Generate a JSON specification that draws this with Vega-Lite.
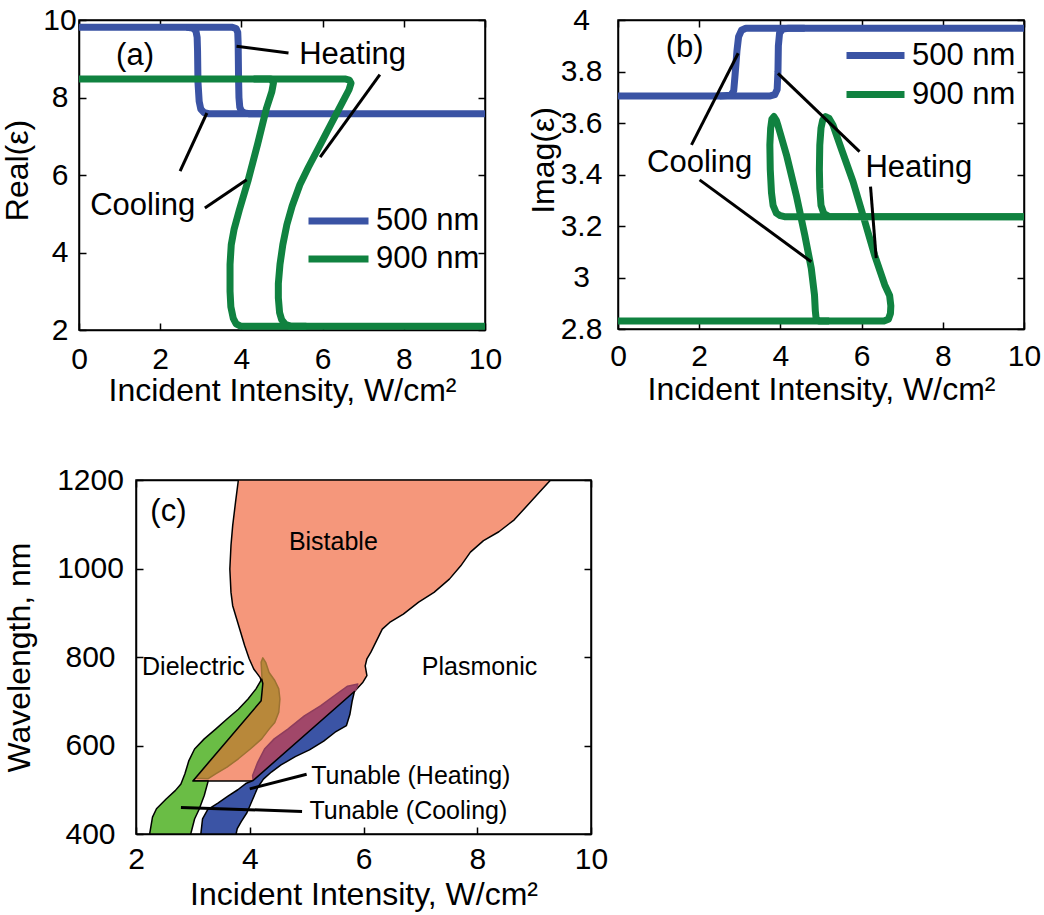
{
"$schema": "https://vega.github.io/schema/vega-lite/v6.json",
"background": "white",
"padding": {"left": 0, "top": 4, "right": 2, "bottom": 2},
"config": {
  "font": "Liberation Sans",
  "view": {"stroke": "black", "strokeWidth": 1.5},
  "axis": {"grid": false, "domainColor": "black", "domainWidth": 1.5, "tickColor": "black", "tickWidth": 1.5, "tickSize": -7, "labelColor": "black", "labelFont": "Liberation Sans", "labelFontSize": 30, "labelFlush": false, "labelOverlap": false, "titleColor": "black", "titleFont": "Liberation Sans", "titleFontSize": 32, "titleFontWeight": "normal"},
  "legend": {"symbolType": "stroke", "symbolStrokeWidth": 7, "labelFont": "Liberation Sans", "labelFontSize": 31, "labelColor": "black", "labelOffset": 4, "padding": 0, "rowPadding": 0}
},
"datasets": {
  "la": [
    {"s":"500h","w":"500 nm","i":0,"x":0,"y":9.81},{"s":"500h","w":"500 nm","i":1,"x":3.78,"y":9.81},{"s":"500h","w":"500 nm","i":2,"x":3.87,"y":9.78},{"s":"500h","w":"500 nm","i":3,"x":3.91,"y":9.68},{"s":"500h","w":"500 nm","i":4,"x":3.92,"y":9.4},{"s":"500h","w":"500 nm","i":5,"x":3.93,"y":8.5},{"s":"500h","w":"500 nm","i":6,"x":3.94,"y":8.0},{"s":"500h","w":"500 nm","i":7,"x":3.96,"y":7.75},{"s":"500h","w":"500 nm","i":8,"x":4.0,"y":7.65},{"s":"500h","w":"500 nm","i":9,"x":4.08,"y":7.6},{"s":"500h","w":"500 nm","i":10,"x":4.2,"y":7.58},{"s":"500h","w":"500 nm","i":11,"x":10,"y":7.58},
    {"s":"500c","w":"500 nm","i":0,"x":4.6,"y":7.58},{"s":"500c","w":"500 nm","i":1,"x":3.2,"y":7.58},{"s":"500c","w":"500 nm","i":2,"x":3.08,"y":7.61},{"s":"500c","w":"500 nm","i":3,"x":3.0,"y":7.7},{"s":"500c","w":"500 nm","i":4,"x":2.96,"y":7.9},{"s":"500c","w":"500 nm","i":5,"x":2.93,"y":8.4},{"s":"500c","w":"500 nm","i":6,"x":2.92,"y":9.2},{"s":"500c","w":"500 nm","i":7,"x":2.91,"y":9.55},{"s":"500c","w":"500 nm","i":8,"x":2.88,"y":9.72},{"s":"500c","w":"500 nm","i":9,"x":2.8,"y":9.79},{"s":"500c","w":"500 nm","i":10,"x":2.65,"y":9.81},
    {"s":"900h","w":"900 nm","i":0,"x":0,"y":8.48},{"s":"900h","w":"900 nm","i":1,"x":6.55,"y":8.48},{"s":"900h","w":"900 nm","i":2,"x":6.66,"y":8.45},{"s":"900h","w":"900 nm","i":3,"x":6.7,"y":8.37},{"s":"900h","w":"900 nm","i":4,"x":6.65,"y":8.2},{"s":"900h","w":"900 nm","i":5,"x":6.5,"y":7.9},{"s":"900h","w":"900 nm","i":6,"x":6.2,"y":7.3},{"s":"900h","w":"900 nm","i":7,"x":5.94,"y":6.78},{"s":"900h","w":"900 nm","i":8,"x":5.65,"y":6.2},{"s":"900h","w":"900 nm","i":9,"x":5.44,"y":5.75},{"s":"900h","w":"900 nm","i":10,"x":5.25,"y":5.2},{"s":"900h","w":"900 nm","i":11,"x":5.12,"y":4.72},{"s":"900h","w":"900 nm","i":12,"x":5.02,"y":4.2},{"s":"900h","w":"900 nm","i":13,"x":4.95,"y":3.69},{"s":"900h","w":"900 nm","i":14,"x":4.91,"y":3.2},{"s":"900h","w":"900 nm","i":15,"x":4.91,"y":2.83},{"s":"900h","w":"900 nm","i":16,"x":4.94,"y":2.45},{"s":"900h","w":"900 nm","i":17,"x":4.99,"y":2.27},{"s":"900h","w":"900 nm","i":18,"x":5.08,"y":2.15},{"s":"900h","w":"900 nm","i":19,"x":5.2,"y":2.1},{"s":"900h","w":"900 nm","i":20,"x":10,"y":2.1},
    {"s":"900c","w":"900 nm","i":0,"x":5.6,"y":2.1},{"s":"900c","w":"900 nm","i":1,"x":3.98,"y":2.1},{"s":"900c","w":"900 nm","i":2,"x":3.87,"y":2.16},{"s":"900c","w":"900 nm","i":3,"x":3.8,"y":2.3},{"s":"900c","w":"900 nm","i":4,"x":3.74,"y":2.6},{"s":"900c","w":"900 nm","i":5,"x":3.72,"y":3.0},{"s":"900c","w":"900 nm","i":6,"x":3.72,"y":3.69},{"s":"900c","w":"900 nm","i":7,"x":3.75,"y":4.2},{"s":"900c","w":"900 nm","i":8,"x":3.82,"y":4.6},{"s":"900c","w":"900 nm","i":9,"x":3.95,"y":5.1},{"s":"900c","w":"900 nm","i":10,"x":4.17,"y":5.88},{"s":"900c","w":"900 nm","i":11,"x":4.4,"y":6.8},{"s":"900c","w":"900 nm","i":12,"x":4.62,"y":7.73},{"s":"900c","w":"900 nm","i":13,"x":4.75,"y":8.15},{"s":"900c","w":"900 nm","i":14,"x":4.79,"y":8.38},{"s":"900c","w":"900 nm","i":15,"x":4.72,"y":8.48},{"s":"900c","w":"900 nm","i":16,"x":4.3,"y":8.48}
  ],
  "lb": [
    {"s":"500h","w":"500 nm","i":0,"x":0,"y":3.705},{"s":"500h","w":"500 nm","i":1,"x":3.75,"y":3.705},{"s":"500h","w":"500 nm","i":2,"x":3.86,"y":3.71},{"s":"500h","w":"500 nm","i":3,"x":3.92,"y":3.73},{"s":"500h","w":"500 nm","i":4,"x":3.94,"y":3.8},{"s":"500h","w":"500 nm","i":5,"x":3.95,"y":3.9},{"s":"500h","w":"500 nm","i":6,"x":3.98,"y":3.95},{"s":"500h","w":"500 nm","i":7,"x":4.06,"y":3.965},{"s":"500h","w":"500 nm","i":8,"x":4.2,"y":3.968},{"s":"500h","w":"500 nm","i":9,"x":10,"y":3.968},
    {"s":"500c","w":"500 nm","i":0,"x":4.6,"y":3.968},{"s":"500c","w":"500 nm","i":1,"x":3.15,"y":3.968},{"s":"500c","w":"500 nm","i":2,"x":3.04,"y":3.96},{"s":"500c","w":"500 nm","i":3,"x":2.97,"y":3.935},{"s":"500c","w":"500 nm","i":4,"x":2.93,"y":3.88},{"s":"500c","w":"500 nm","i":5,"x":2.88,"y":3.78},{"s":"500c","w":"500 nm","i":6,"x":2.85,"y":3.725},{"s":"500c","w":"500 nm","i":7,"x":2.78,"y":3.708},{"s":"500c","w":"500 nm","i":8,"x":2.5,"y":3.705},
    {"s":"900h","w":"900 nm","i":0,"x":0,"y":2.831},{"s":"900h","w":"900 nm","i":1,"x":6.55,"y":2.831},{"s":"900h","w":"900 nm","i":2,"x":6.66,"y":2.838},{"s":"900h","w":"900 nm","i":3,"x":6.71,"y":2.86},{"s":"900h","w":"900 nm","i":4,"x":6.72,"y":2.89},{"s":"900h","w":"900 nm","i":5,"x":6.69,"y":2.93},{"s":"900h","w":"900 nm","i":6,"x":6.57,"y":2.971},{"s":"900h","w":"900 nm","i":7,"x":6.32,"y":3.087},{"s":"900h","w":"900 nm","i":8,"x":6.08,"y":3.217},{"s":"900h","w":"900 nm","i":9,"x":5.79,"y":3.372},{"s":"900h","w":"900 nm","i":10,"x":5.5,"y":3.5},{"s":"900h","w":"900 nm","i":11,"x":5.3,"y":3.59},{"s":"900h","w":"900 nm","i":12,"x":5.2,"y":3.618},{"s":"900h","w":"900 nm","i":13,"x":5.11,"y":3.625},{"s":"900h","w":"900 nm","i":14,"x":5.04,"y":3.61},{"s":"900h","w":"900 nm","i":15,"x":5.0,"y":3.58},{"s":"900h","w":"900 nm","i":16,"x":4.97,"y":3.515},{"s":"900h","w":"900 nm","i":17,"x":4.96,"y":3.42},{"s":"900h","w":"900 nm","i":18,"x":4.97,"y":3.346},{"s":"900h","w":"900 nm","i":19,"x":5.0,"y":3.28},{"s":"900h","w":"900 nm","i":20,"x":5.07,"y":3.248},{"s":"900h","w":"900 nm","i":21,"x":5.2,"y":3.237},{"s":"900h","w":"900 nm","i":22,"x":10,"y":3.236},
    {"s":"900c","w":"900 nm","i":0,"x":10,"y":3.236},{"s":"900c","w":"900 nm","i":1,"x":4.1,"y":3.236},{"s":"900c","w":"900 nm","i":2,"x":4.0,"y":3.24},{"s":"900c","w":"900 nm","i":3,"x":3.9,"y":3.25},{"s":"900c","w":"900 nm","i":4,"x":3.82,"y":3.28},{"s":"900c","w":"900 nm","i":5,"x":3.78,"y":3.33},{"s":"900c","w":"900 nm","i":6,"x":3.75,"y":3.42},{"s":"900c","w":"900 nm","i":7,"x":3.74,"y":3.515},{"s":"900c","w":"900 nm","i":8,"x":3.76,"y":3.58},{"s":"900c","w":"900 nm","i":9,"x":3.79,"y":3.615},{"s":"900c","w":"900 nm","i":10,"x":3.84,"y":3.625},{"s":"900c","w":"900 nm","i":11,"x":3.9,"y":3.61},{"s":"900c","w":"900 nm","i":12,"x":3.95,"y":3.585},{"s":"900c","w":"900 nm","i":13,"x":4.15,"y":3.476},{"s":"900c","w":"900 nm","i":14,"x":4.39,"y":3.32},{"s":"900c","w":"900 nm","i":15,"x":4.6,"y":3.165},{"s":"900c","w":"900 nm","i":16,"x":4.76,"y":3.036},{"s":"900c","w":"900 nm","i":17,"x":4.84,"y":2.932},{"s":"900c","w":"900 nm","i":18,"x":4.86,"y":2.87},{"s":"900c","w":"900 nm","i":19,"x":4.88,"y":2.84},{"s":"900c","w":"900 nm","i":20,"x":4.95,"y":2.831},{"s":"900c","w":"900 nm","i":21,"x":5.2,"y":2.831}
  ],
  "aa": [{"x":3.88,"y":9.32,"x2":5.16,"y2":9.15},{"x":7.41,"y":8.59,"x2":5.94,"y2":6.46},{"x":3.15,"y":7.6,"x2":2.49,"y2":6.1},{"x":4.13,"y":5.88,"x2":3.1,"y2":5.15}],
  "ta": [{"t":"(a)","x":1.38,"y":9.06},{"t":"Heating","x":6.74,"y":9.1},{"t":"Cooling","x":1.57,"y":5.19}],
  "ab": [{"x":2.96,"y":3.871,"x2":1.81,"y2":3.515},{"x":2.01,"y":3.379,"x2":4.76,"y2":3.061},{"x":3.94,"y":3.793,"x2":5.95,"y2":3.489},{"x":6.22,"y":3.353,"x2":6.36,"y2":3.075}],
  "tb": [{"t":"(b)","x":1.64,"y":3.89},{"t":"Cooling","x":2.01,"y":3.443},{"t":"Heating","x":7.41,"y":3.424}],
  "ac": [{"x":4.0,"y":502,"x2":5.0,"y2":535},{"x":2.79,"y":460,"x2":4.92,"y2":451}],
  "tc": [{"t":"(c)","x":2.57,"y":1127,"g":"h"},{"t":"Bistable","x":5.47,"y":1061,"g":"c"},{"t":"Dielectric","x":3.01,"y":777,"g":"c"},{"t":"Plasmonic","x":8.04,"y":777,"g":"c"},{"t":"Tunable (Heating)","x":5.08,"y":530,"g":"l"},{"t":"Tunable (Cooling)","x":5.05,"y":453,"g":"l"}],
  "cp": [
    {"r":"bistable","i":1,"x":3.8,"y":1200},{"r":"bistable","i":2,"x":9.29,"y":1200},{"r":"bistable","i":3,"x":9.12,"y":1176},{"r":"bistable","i":4,"x":8.92,"y":1148},{"r":"bistable","i":5,"x":8.65,"y":1110},{"r":"bistable","i":6,"x":8.38,"y":1083},{"r":"bistable","i":7,"x":8.11,"y":1063},{"r":"bistable","i":8,"x":7.88,"y":1037},{"r":"bistable","i":9,"x":7.71,"y":1006},{"r":"bistable","i":10,"x":7.51,"y":976},{"r":"bistable","i":11,"x":7.24,"y":946},{"r":"bistable","i":12,"x":6.97,"y":924},{"r":"bistable","i":13,"x":6.7,"y":897},{"r":"bistable","i":14,"x":6.46,"y":878},{"r":"bistable","i":15,"x":6.33,"y":863},{"r":"bistable","i":16,"x":6.23,"y":837},{"r":"bistable","i":17,"x":6.13,"y":811},{"r":"bistable","i":18,"x":6.06,"y":796},{"r":"bistable","i":19,"x":6.03,"y":780},{"r":"bistable","i":20,"x":6.06,"y":758},{"r":"bistable","i":21,"x":5.99,"y":743},{"r":"bistable","i":22,"x":5.84,"y":722},{"r":"bistable","i":23,"x":4.08,"y":520},{"r":"bistable","i":24,"x":3.0,"y":520},{"r":"bistable","i":25,"x":4.2,"y":701},{"r":"bistable","i":26,"x":4.22,"y":740},{"r":"bistable","i":27,"x":4.18,"y":754},{"r":"bistable","i":28,"x":4.07,"y":773},{"r":"bistable","i":29,"x":3.99,"y":796},{"r":"bistable","i":30,"x":3.91,"y":826},{"r":"bistable","i":31,"x":3.84,"y":856},{"r":"bistable","i":32,"x":3.77,"y":886},{"r":"bistable","i":33,"x":3.7,"y":916},{"r":"bistable","i":34,"x":3.67,"y":946},{"r":"bistable","i":35,"x":3.65,"y":999},{"r":"bistable","i":36,"x":3.67,"y":1052},{"r":"bistable","i":37,"x":3.7,"y":1097},{"r":"bistable","i":38,"x":3.75,"y":1150},{"r":"bistable","i":39,"x":3.8,"y":1200},
    {"r":"brown","i":1,"x":3.05,"y":526},{"r":"brown","i":2,"x":4.2,"y":701},{"r":"brown","i":3,"x":4.22,"y":740},{"r":"brown","i":4,"x":4.2,"y":788},{"r":"brown","i":5,"x":4.23,"y":798},{"r":"brown","i":6,"x":4.28,"y":788},{"r":"brown","i":7,"x":4.34,"y":765},{"r":"brown","i":8,"x":4.44,"y":747},{"r":"brown","i":9,"x":4.51,"y":728},{"r":"brown","i":10,"x":4.53,"y":705},{"r":"brown","i":11,"x":4.51,"y":675},{"r":"brown","i":12,"x":4.44,"y":652},{"r":"brown","i":13,"x":4.34,"y":637},{"r":"brown","i":14,"x":4.21,"y":615},{"r":"brown","i":15,"x":4.01,"y":592},{"r":"brown","i":16,"x":3.8,"y":570},{"r":"brown","i":17,"x":3.6,"y":551},{"r":"brown","i":18,"x":3.4,"y":536},{"r":"brown","i":19,"x":3.27,"y":525},{"r":"brown","i":20,"x":3.05,"y":526},
    {"r":"maroon","i":1,"x":4.06,"y":521},{"r":"maroon","i":2,"x":5.84,"y":722},{"r":"maroon","i":3,"x":5.88,"y":730},{"r":"maroon","i":4,"x":5.9,"y":739},{"r":"maroon","i":5,"x":5.72,"y":734},{"r":"maroon","i":6,"x":5.49,"y":713},{"r":"maroon","i":7,"x":5.25,"y":690},{"r":"maroon","i":8,"x":4.96,"y":667},{"r":"maroon","i":9,"x":4.67,"y":637},{"r":"maroon","i":10,"x":4.43,"y":615},{"r":"maroon","i":11,"x":4.26,"y":592},{"r":"maroon","i":12,"x":4.14,"y":562},{"r":"maroon","i":13,"x":4.05,"y":532},{"r":"maroon","i":14,"x":4.06,"y":521},
    {"r":"green","i":1,"x":2.24,"y":400},{"r":"green","i":2,"x":2.29,"y":438},{"r":"green","i":3,"x":2.36,"y":457},{"r":"green","i":4,"x":2.53,"y":479},{"r":"green","i":5,"x":2.69,"y":498},{"r":"green","i":6,"x":2.79,"y":513},{"r":"green","i":7,"x":2.86,"y":536},{"r":"green","i":8,"x":2.93,"y":566},{"r":"green","i":9,"x":3.03,"y":592},{"r":"green","i":10,"x":3.2,"y":615},{"r":"green","i":11,"x":3.4,"y":637},{"r":"green","i":12,"x":3.6,"y":660},{"r":"green","i":13,"x":3.8,"y":682},{"r":"green","i":14,"x":3.97,"y":705},{"r":"green","i":15,"x":4.11,"y":728},{"r":"green","i":16,"x":4.21,"y":750},{"r":"green","i":17,"x":4.23,"y":740},{"r":"green","i":18,"x":4.2,"y":701},{"r":"green","i":19,"x":3.0,"y":520},{"r":"green","i":20,"x":3.27,"y":520},{"r":"green","i":21,"x":3.2,"y":487},{"r":"green","i":22,"x":3.11,"y":456},{"r":"green","i":23,"x":3.03,"y":434},{"r":"green","i":24,"x":2.97,"y":404},{"r":"green","i":25,"x":2.96,"y":400},{"r":"green","i":26,"x":2.24,"y":400},
    {"r":"blue","i":1,"x":3.14,"y":400},{"r":"blue","i":2,"x":3.17,"y":434},{"r":"blue","i":3,"x":3.26,"y":455},{"r":"blue","i":4,"x":3.44,"y":470},{"r":"blue","i":5,"x":3.61,"y":485},{"r":"blue","i":6,"x":3.79,"y":500},{"r":"blue","i":7,"x":3.93,"y":514},{"r":"blue","i":8,"x":4.06,"y":521},{"r":"blue","i":9,"x":5.84,"y":722},{"r":"blue","i":10,"x":5.8,"y":700},{"r":"blue","i":11,"x":5.76,"y":670},{"r":"blue","i":12,"x":5.7,"y":645},{"r":"blue","i":13,"x":5.5,"y":630},{"r":"blue","i":14,"x":5.3,"y":610},{"r":"blue","i":15,"x":5.05,"y":590},{"r":"blue","i":16,"x":4.8,"y":575},{"r":"blue","i":17,"x":4.55,"y":556},{"r":"blue","i":18,"x":4.38,"y":540},{"r":"blue","i":19,"x":4.24,"y":524},{"r":"blue","i":20,"x":4.14,"y":505},{"r":"blue","i":21,"x":4.05,"y":478},{"r":"blue","i":22,"x":3.95,"y":448},{"r":"blue","i":23,"x":3.85,"y":428},{"r":"blue","i":24,"x":3.78,"y":412},{"r":"blue","i":25,"x":3.76,"y":400},{"r":"blue","i":26,"x":3.14,"y":400}
  ]
},
"vconcat": [
  {
    "hconcat": [
      {
        "width": 406, "height": 310,
        "resolve": {"axis": {"x": "independent", "y": "independent"}},
        "layer": [
          {"data": {"name": "la"},
           "mark": {"type": "line", "strokeWidth": 7, "strokeJoin": "round", "clip": true},
           "encoding": {
             "x": {"field": "x", "type": "quantitative", "scale": {"domain": [0, 10], "nice": false, "zero": false}, "axis": {"values": [0, 2, 4, 6, 8, 10], "labelPadding": 21, "title": "Incident Intensity, W/cm²", "titleY": 70, "titleBaseline": "alphabetic"}},
             "y": {"field": "y", "type": "quantitative", "scale": {"domain": [2, 10], "nice": false, "zero": false}, "axis": {"values": [2, 4, 6, 8, 10], "labelAlign": "center", "labelBaseline": "middle", "labelPadding": 26.5, "title": "Real(ε)", "titleX": -61.5, "titleY": 150, "titleBaseline": "middle"}},
             "color": {"field": "w", "type": "nominal", "scale": {"domain": ["500 nm", "900 nm"], "range": ["#3a53a4", "#108240"]}, "legend": {"title": null, "orient": "none", "legendX": 226, "legendY": 182, "clipHeight": 38, "symbolSize": 3600}},
             "detail": {"field": "s"},
             "order": {"field": "i", "type": "quantitative"}
           }},
          {"data": {"name": "aa"},
           "mark": {"type": "rule", "color": "black", "strokeWidth": 3},
           "encoding": {
             "x": {"field": "x", "type": "quantitative", "scale": {"domain": [0, 10], "nice": false, "zero": false}, "axis": {"orient": "top", "values": [0, 2, 4, 6, 8, 10], "labels": false, "title": null}},
             "y": {"field": "y", "type": "quantitative", "scale": {"domain": [2, 10], "nice": false, "zero": false}, "axis": {"orient": "right", "values": [2, 4, 6, 8, 10], "labels": false, "title": null}},
             "x2": {"field": "x2"}, "y2": {"field": "y2"}
           }},
          {"data": {"name": "ta"},
           "mark": {"type": "text", "fontSize": 31, "align": "center", "baseline": "middle", "color": "black", "font": "Liberation Sans"},
           "encoding": {
             "x": {"field": "x", "type": "quantitative", "scale": {"domain": [0, 10], "nice": false, "zero": false}, "axis": null},
             "y": {"field": "y", "type": "quantitative", "scale": {"domain": [2, 10], "nice": false, "zero": false}, "axis": null},
             "text": {"field": "t"}
           }}
        ]
      },
      {
        "width": 406, "height": 309,
        "resolve": {"axis": {"x": "independent", "y": "independent"}},
        "layer": [
          {"data": {"name": "lb"},
           "mark": {"type": "line", "strokeWidth": 7, "strokeJoin": "round", "clip": true},
           "encoding": {
             "x": {"field": "x", "type": "quantitative", "scale": {"domain": [0, 10], "nice": false, "zero": false}, "axis": {"values": [0, 2, 4, 6, 8, 10], "labelPadding": 19, "title": "Incident Intensity, W/cm²", "titleY": 70, "titleBaseline": "alphabetic"}},
             "y": {"field": "y", "type": "quantitative", "scale": {"domain": [2.8, 4], "nice": false, "zero": false}, "axis": {"values": [2.8, 3, 3.2, 3.4, 3.6, 3.8, 4], "format": "~g", "labelAlign": "center", "labelBaseline": "middle", "labelPadding": 44, "title": "Imag(ε)", "titleX": -75, "titleY": 140, "titleBaseline": "middle"}},
             "color": {"field": "w", "type": "nominal", "scale": {"domain": ["500 nm", "900 nm"], "range": ["#3a53a4", "#108240"]}, "legend": {"title": null, "orient": "none", "legendX": 225, "legendY": 16, "clipHeight": 39, "symbolSize": 3364}},
             "detail": {"field": "s"},
             "order": {"field": "i", "type": "quantitative"}
           }},
          {"data": {"name": "ab"},
           "mark": {"type": "rule", "color": "black", "strokeWidth": 3},
           "encoding": {
             "x": {"field": "x", "type": "quantitative", "scale": {"domain": [0, 10], "nice": false, "zero": false}, "axis": {"orient": "top", "values": [0, 2, 4, 6, 8, 10], "labels": false, "title": null}},
             "y": {"field": "y", "type": "quantitative", "scale": {"domain": [2.8, 4], "nice": false, "zero": false}, "axis": {"orient": "right", "values": [2.8, 3, 3.2, 3.4, 3.6, 3.8, 4], "labels": false, "title": null}},
             "x2": {"field": "x2"}, "y2": {"field": "y2"}
           }},
          {"data": {"name": "tb"},
           "mark": {"type": "text", "fontSize": 31, "align": "center", "baseline": "middle", "color": "black", "font": "Liberation Sans"},
           "encoding": {
             "x": {"field": "x", "type": "quantitative", "scale": {"domain": [0, 10], "nice": false, "zero": false}, "axis": null},
             "y": {"field": "y", "type": "quantitative", "scale": {"domain": [2.8, 4], "nice": false, "zero": false}, "axis": null},
             "text": {"field": "t"}
           }}
        ]
      }
    ],
    "spacing": 23,
    "resolve": {"scale": {"color": "independent"}, "legend": {"color": "independent"}}
  },
  {
    "hconcat": [
      {
        "width": 40, "height": 1,
        "view": {"stroke": null},
        "data": {"values": [{"v": 0}]},
        "mark": {"type": "point", "opacity": 0}
      },
      {
        "width": 455, "height": 354,
        "resolve": {"axis": {"x": "independent", "y": "independent"}},
        "layer": [
          {"data": {"name": "cp"}, "transform": [{"filter": "datum.r == 'bistable'"}],
           "mark": {"type": "line", "fill": "#f5977b", "stroke": "black", "strokeWidth": 1.5, "strokeJoin": "round", "clip": true},
           "encoding": {
             "x": {"field": "x", "type": "quantitative", "scale": {"domain": [2, 10], "nice": false, "zero": false}, "axis": {"values": [2, 4, 6, 8, 10], "labelPadding": 17, "title": "Incident Intensity, W/cm²", "titleY": 70, "titleBaseline": "alphabetic"}},
             "y": {"field": "y", "type": "quantitative", "scale": {"domain": [400, 1200], "nice": false, "zero": false}, "axis": {"values": [400, 600, 800, 1000, 1200], "format": "d", "labelAlign": "center", "labelBaseline": "middle", "labelPadding": 53, "title": "Wavelength, nm", "titleX": -117, "titleBaseline": "middle"}},
             "order": {"field": "i", "type": "quantitative"}
           }},
          {"data": {"name": "cp"}, "transform": [{"filter": "datum.r == 'brown'"}],
           "mark": {"type": "line", "fill": "#b8883a", "stroke": "#9c7232", "strokeWidth": 1.5, "strokeJoin": "round", "clip": true},
           "encoding": {
             "x": {"field": "x", "type": "quantitative", "scale": {"domain": [2, 10], "nice": false, "zero": false}, "axis": null},
             "y": {"field": "y", "type": "quantitative", "scale": {"domain": [400, 1200], "nice": false, "zero": false}, "axis": null},
             "order": {"field": "i", "type": "quantitative"}
           }},
          {"data": {"name": "cp"}, "transform": [{"filter": "datum.r == 'maroon'"}],
           "mark": {"type": "line", "fill": "#a14769", "stroke": "#8e3d5c", "strokeWidth": 1.5, "strokeJoin": "round", "clip": true},
           "encoding": {
             "x": {"field": "x", "type": "quantitative", "scale": {"domain": [2, 10], "nice": false, "zero": false}, "axis": null},
             "y": {"field": "y", "type": "quantitative", "scale": {"domain": [400, 1200], "nice": false, "zero": false}, "axis": null},
             "order": {"field": "i", "type": "quantitative"}
           }},
          {"data": {"name": "cp"}, "transform": [{"filter": "datum.r == 'green'"}],
           "mark": {"type": "line", "fill": "#6abd45", "stroke": "black", "strokeWidth": 1.5, "strokeJoin": "round", "clip": true},
           "encoding": {
             "x": {"field": "x", "type": "quantitative", "scale": {"domain": [2, 10], "nice": false, "zero": false}, "axis": null},
             "y": {"field": "y", "type": "quantitative", "scale": {"domain": [400, 1200], "nice": false, "zero": false}, "axis": null},
             "order": {"field": "i", "type": "quantitative"}
           }},
          {"data": {"name": "cp"}, "transform": [{"filter": "datum.r == 'blue'"}],
           "mark": {"type": "line", "fill": "#3b54a5", "stroke": "black", "strokeWidth": 1.5, "strokeJoin": "round", "clip": true},
           "encoding": {
             "x": {"field": "x", "type": "quantitative", "scale": {"domain": [2, 10], "nice": false, "zero": false}, "axis": null},
             "y": {"field": "y", "type": "quantitative", "scale": {"domain": [400, 1200], "nice": false, "zero": false}, "axis": null},
             "order": {"field": "i", "type": "quantitative"}
           }},
          {"data": {"name": "ac"},
           "mark": {"type": "rule", "color": "black", "strokeWidth": 3},
           "encoding": {
             "x": {"field": "x", "type": "quantitative", "scale": {"domain": [2, 10], "nice": false, "zero": false}, "axis": {"orient": "top", "values": [2, 4, 6, 8, 10], "labels": false, "title": null}},
             "y": {"field": "y", "type": "quantitative", "scale": {"domain": [400, 1200], "nice": false, "zero": false}, "axis": {"orient": "right", "values": [400, 600, 800, 1000, 1200], "labels": false, "title": null}},
             "x2": {"field": "x2"}, "y2": {"field": "y2"}
           }},
          {"data": {"name": "tc"}, "transform": [{"filter": "datum.g == 'c'"}],
           "mark": {"type": "text", "fontSize": 25, "align": "center", "baseline": "middle", "color": "black", "font": "Liberation Sans"},
           "encoding": {
             "x": {"field": "x", "type": "quantitative", "scale": {"domain": [2, 10], "nice": false, "zero": false}, "axis": null},
             "y": {"field": "y", "type": "quantitative", "scale": {"domain": [400, 1200], "nice": false, "zero": false}, "axis": null},
             "text": {"field": "t"}
           }},
          {"data": {"name": "tc"}, "transform": [{"filter": "datum.g == 'l'"}],
           "mark": {"type": "text", "fontSize": 25, "align": "left", "baseline": "middle", "color": "black", "font": "Liberation Sans"},
           "encoding": {
             "x": {"field": "x", "type": "quantitative", "scale": {"domain": [2, 10], "nice": false, "zero": false}, "axis": null},
             "y": {"field": "y", "type": "quantitative", "scale": {"domain": [400, 1200], "nice": false, "zero": false}, "axis": null},
             "text": {"field": "t"}
           }},
          {"data": {"name": "tc"}, "transform": [{"filter": "datum.g == 'h'"}],
           "mark": {"type": "text", "fontSize": 31, "align": "center", "baseline": "middle", "color": "black", "font": "Liberation Sans"},
           "encoding": {
             "x": {"field": "x", "type": "quantitative", "scale": {"domain": [2, 10], "nice": false, "zero": false}, "axis": null},
             "y": {"field": "y", "type": "quantitative", "scale": {"domain": [400, 1200], "nice": false, "zero": false}, "axis": null},
             "text": {"field": "t"}
           }}
        ]
      }
    ],
    "bounds": "flush",
    "spacing": 17
  }
],
"spacing": 57,
"resolve": {"scale": {"color": "independent"}, "legend": {"color": "independent"}}
}
